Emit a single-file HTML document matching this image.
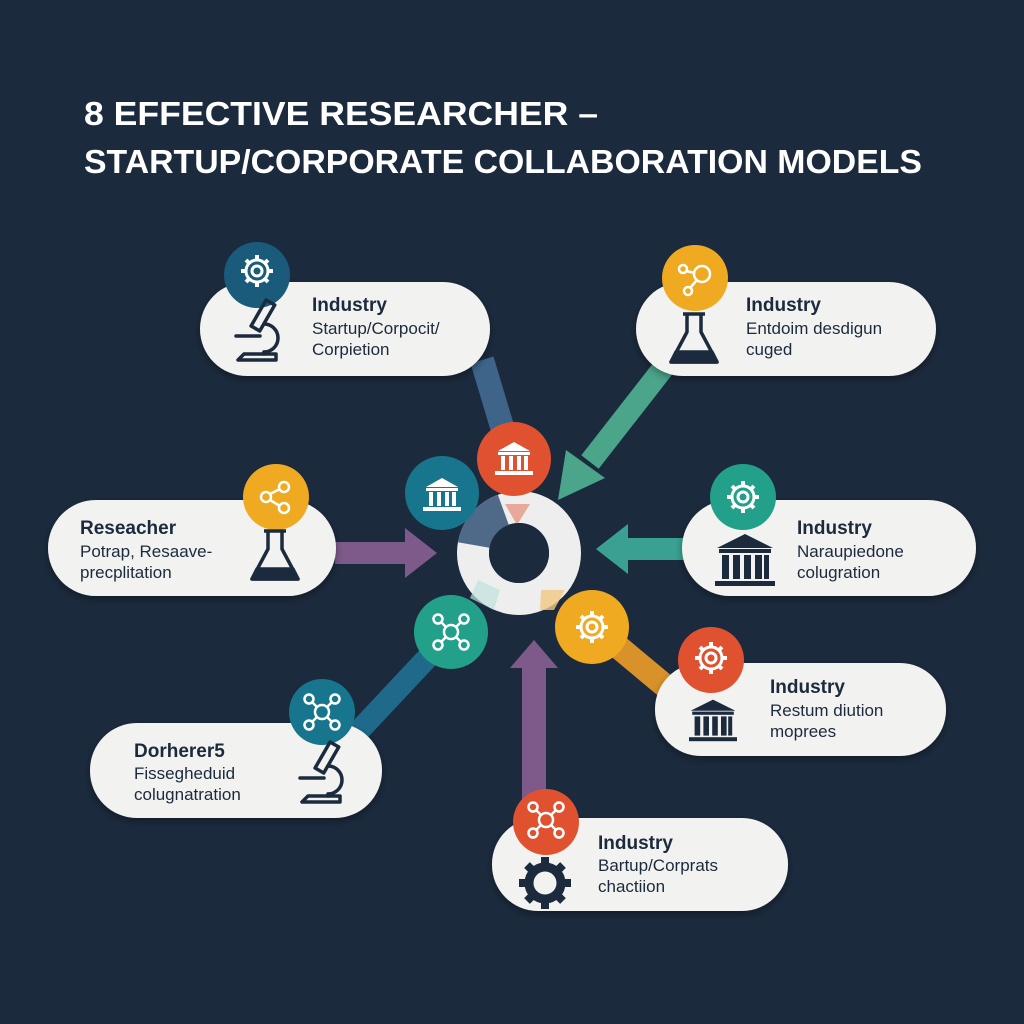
<!DOCTYPE html>
<html><head><meta charset="utf-8"><style>
html,body{margin:0;padding:0;background:#1b2a3d;}
svg{display:block}
text{font-family:"Liberation Sans",sans-serif;}
</style></head><body>
<svg width="1024" height="1024" viewBox="0 0 1024 1024" xmlns="http://www.w3.org/2000/svg">
<defs>
<filter id="sh" x="-10%" y="-20%" width="120%" height="150%"><feDropShadow dx="0" dy="3" stdDeviation="4" flood-color="#000" flood-opacity="0.35"/></filter>
<g id="gear"><circle r="11" fill="none" stroke="#fff" stroke-width="3"/><circle r="5" fill="none" stroke="#fff" stroke-width="3"/>
<g stroke="#fff" stroke-width="4"><line x1="0" y1="-16" x2="0" y2="-11"/><line x1="0" y1="16" x2="0" y2="11"/><line x1="-16" y1="0" x2="-11" y2="0"/><line x1="16" y1="0" x2="11" y2="0"/><line x1="-11" y1="-11" x2="-8" y2="-8"/><line x1="11" y1="11" x2="8" y2="8"/><line x1="-11" y1="11" x2="-8" y2="8"/><line x1="11" y1="-11" x2="8" y2="-8"/></g></g>
<g id="net" fill="none" stroke="#fff" stroke-width="2.5"><circle r="7"/><circle cx="-13" cy="-13" r="4.5"/><circle cx="13" cy="-13" r="4.5"/><circle cx="-13" cy="13" r="4.5"/><circle cx="13" cy="13" r="4.5"/><line x1="-5" y1="-5" x2="-10" y2="-10"/><line x1="5" y1="-5" x2="10" y2="-10"/><line x1="-5" y1="5" x2="-10" y2="10"/><line x1="5" y1="5" x2="10" y2="10"/></g>
<g id="bldg" fill="#fff"><polygon points="-16,-8 0,-17 16,-8"/><rect x="-16" y="-7" width="32" height="3"/><rect x="-13" y="-3" width="4" height="14"/><rect x="-5" y="-3" width="4" height="14"/><rect x="3" y="-3" width="4" height="14"/><rect x="10" y="-3" width="4" height="14"/><rect x="-19" y="12" width="38" height="4"/></g>
<g id="micro" fill="none" stroke="#1b2a3d" stroke-width="3.5" stroke-linecap="round" stroke-linejoin="round"><rect x="-8" y="-30" width="10" height="30" transform="rotate(30)"/><path d="M6 -6 a14 14 0 0 1 0 28"/><line x1="-22" y1="6" x2="2" y2="6"/><path d="M-20 30 h38 v-6 h-32 z"/><line x1="6" y1="22" x2="6" y2="24"/></g>
<g id="flask" fill="none" stroke="#1b2a3d" stroke-width="3.5" stroke-linejoin="round"><path d="M-7 -26 v18 l-16 30 h46 l-16 -30 v-18"/><line x1="-11" y1="-26" x2="11" y2="-26"/><path d="M-18 12 h36 l5 10 h-46 z" fill="#1b2a3d"/></g>
<g id="bigbldg" fill="#1b2a3d"><polygon points="-28,-14 0,-28 28,-14"/><rect x="-26" y="-13" width="52" height="4"/><rect x="-23" y="-7" width="7" height="24"/><rect x="-12" y="-7" width="7" height="24"/><rect x="-1" y="-7" width="7" height="24"/><rect x="10" y="-7" width="7" height="24"/><rect x="19" y="-7" width="5" height="24"/><rect x="-30" y="19" width="60" height="5"/></g>
<g id="biggear"><circle r="16" fill="none" stroke="#1b2a3d" stroke-width="9"/><g stroke="#1b2a3d" stroke-width="8"><line x1="0" y1="-26" x2="0" y2="-18"/><line x1="0" y1="26" x2="0" y2="18"/><line x1="-26" y1="0" x2="-18" y2="0"/><line x1="26" y1="0" x2="18" y2="0"/><line x1="-18" y1="-18" x2="-13" y2="-13"/><line x1="18" y1="18" x2="13" y2="13"/><line x1="-18" y1="18" x2="-13" y2="13"/><line x1="18" y1="-18" x2="13" y2="-13"/></g></g>
</defs>
<rect width="1024" height="1024" fill="#1b2a3d"/>
<text x="84" y="125" fill="#fff" font-size="33" font-weight="bold" textLength="514" lengthAdjust="spacingAndGlyphs">8 EFFECTIVE RESEARCHER –</text>
<text x="84" y="173" fill="#fff" font-size="33" font-weight="bold" textLength="838" lengthAdjust="spacingAndGlyphs">STARTUP/CORPORATE COLLABORATION MODELS</text>

<!-- connectors -->
<line x1="482" y1="360" x2="506" y2="440" stroke="#3e6489" stroke-width="24"/>
<line x1="668" y1="362" x2="590" y2="462" stroke="#4aa58a" stroke-width="22"/>
<polygon points="558,500 566,450 605,478" fill="#4aa58a"/>
<rect x="335" y="542" width="72" height="22" fill="#7e5a8a"/>
<polygon points="405,528 437,553 405,578" fill="#7e5a8a"/>
<rect x="626" y="538" width="58" height="22" fill="#3aa192"/>
<polygon points="628,524 596,549 628,574" fill="#3aa192"/>
<line x1="610" y1="640" x2="670" y2="690" stroke="#d9912a" stroke-width="24"/>
<line x1="355" y1="735" x2="430" y2="655" stroke="#1f6a8a" stroke-width="22"/>
<rect x="522" y="668" width="24" height="140" fill="#7e5a8a"/>
<polygon points="510,668 534,640 558,668" fill="#7e5a8a"/>

<!-- center ring -->
<circle cx="519" cy="553" r="46" fill="none" stroke="#eeeeee" stroke-width="32"/>
<path d="M473.7 545 A46 46 0 0 1 503.3 509.8" stroke="#4e6a88" stroke-width="32" fill="none"/>
<polygon points="505,504 530,504 517,525" fill="#e8a89a"/>
<polygon points="541,590 565,590 554,610 540,610" fill="#f0c880" opacity="0.8"/>
<polygon points="478,580 500,590 494,610 470,598" fill="#bfe3dc" opacity="0.7"/>
<circle cx="519" cy="553" r="30" fill="#1b2a3d"/>

<!-- satellites -->
<circle cx="514" cy="459" r="37" fill="#e0522f"/><use href="#bldg" x="514" y="459"/>
<circle cx="442" cy="493" r="37" fill="#17768d"/><use href="#bldg" x="442" y="495"/>
<circle cx="451" cy="632" r="37" fill="#23a08a"/><use href="#net" x="451" y="632"/>
<circle cx="592" cy="627" r="37" fill="#f0aa22"/><use href="#gear" x="592" y="627"/>

<!-- pills -->
<g filter="url(#sh)" fill="#f2f2f0">
<rect x="200" y="282" width="290" height="94" rx="47"/>
<rect x="636" y="282" width="300" height="94" rx="47"/>
<rect x="48" y="500" width="288" height="96" rx="48"/>
<rect x="682" y="500" width="294" height="96" rx="48"/>
<rect x="655" y="663" width="291" height="93" rx="46"/>
<rect x="90" y="723" width="292" height="95" rx="47"/>
<rect x="492" y="818" width="296" height="93" rx="46"/>
</g>

<!-- pill icons -->
<circle cx="257" cy="275" r="33" fill="#1a5a7a"/><use href="#gear" x="257" y="271"/>
<use href="#micro" x="258" y="330"/>
<circle cx="695" cy="278" r="33" fill="#f0aa22"/>
<g fill="none" stroke="#fff" stroke-width="2.5"><circle cx="702" cy="274" r="8"/><circle cx="683" cy="269" r="4"/><circle cx="688" cy="291" r="4"/><line x1="686" y1="271" x2="695" y2="273"/><line x1="690" y1="288" x2="697" y2="280"/></g>
<use href="#flask" x="694" y="340"/>
<circle cx="276" cy="497" r="33" fill="#f0aa22"/>
<g fill="none" stroke="#fff" stroke-width="2.5"><circle cx="266" cy="497" r="5"/><circle cx="284" cy="487" r="5"/><circle cx="284" cy="508" r="5"/><line x1="270" y1="494" x2="280" y2="489"/><line x1="270" y1="500" x2="280" y2="506"/></g>
<use href="#flask" x="275" y="557"/>
<circle cx="743" cy="497" r="33" fill="#23a08a"/><use href="#gear" x="743" y="497"/>
<use href="#bigbldg" x="745" y="562"/>
<circle cx="711" cy="660" r="33" fill="#e0522f"/><use href="#gear" x="711" y="658"/>
<use href="#bigbldg" transform="translate(713,722) scale(0.8)"/>
<circle cx="322" cy="712" r="33" fill="#17768d"/><use href="#net" x="322" y="712"/>
<use href="#micro" x="322" y="772"/>
<circle cx="546" cy="822" r="33" fill="#e0522f"/><use href="#net" x="546" y="820"/>
<use href="#biggear" x="545" y="883"/>

<!-- pill text -->
<g fill="#1b2a3d">
<text x="312" y="311" font-size="19" font-weight="bold">Industry</text>
<text x="312" y="334" font-size="17">Startup/Corpocit/</text>
<text x="312" y="355" font-size="17">Corpietion</text>
<text x="746" y="311" font-size="19" font-weight="bold">Industry</text>
<text x="746" y="334" font-size="17">Entdoim desdigun</text>
<text x="746" y="355" font-size="17">cuged</text>
<text x="80" y="534" font-size="19" font-weight="bold">Reseacher</text>
<text x="80" y="557" font-size="17">Potrap, Resaave-</text>
<text x="80" y="578" font-size="17">precplitation</text>
<text x="797" y="534" font-size="19" font-weight="bold">Industry</text>
<text x="797" y="557" font-size="17">Naraupiedone</text>
<text x="797" y="578" font-size="17">colugration</text>
<text x="770" y="693" font-size="19" font-weight="bold">Industry</text>
<text x="770" y="716" font-size="17">Restum diution</text>
<text x="770" y="737" font-size="17">moprees</text>
<text x="134" y="757" font-size="19" font-weight="bold">Dorherer5</text>
<text x="134" y="779" font-size="17">Fissegheduid</text>
<text x="134" y="800" font-size="17">colugnatration</text>
<text x="598" y="849" font-size="19" font-weight="bold">Industry</text>
<text x="598" y="871" font-size="17">Bartup/Corprats</text>
<text x="598" y="892" font-size="17">chactiion</text>
</g>
</svg>
</body></html>
